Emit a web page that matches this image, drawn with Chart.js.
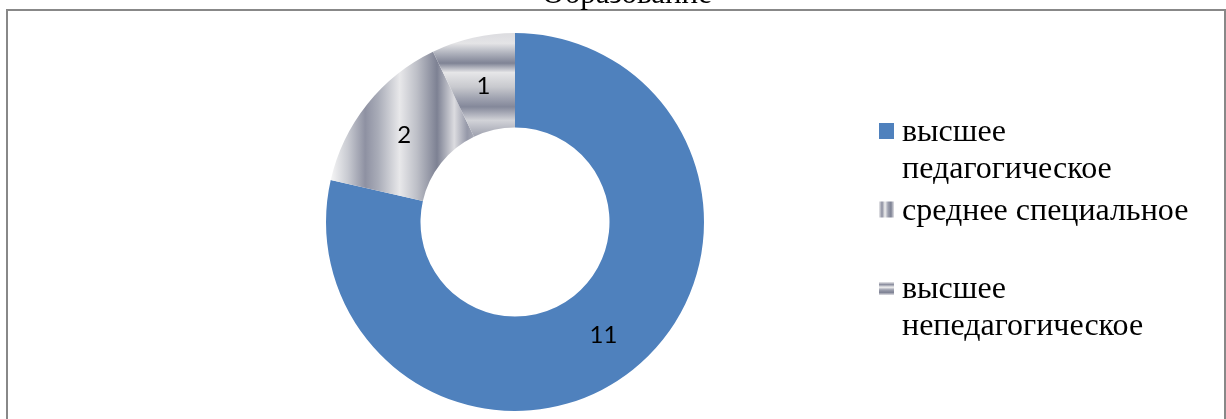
<!DOCTYPE html>
<html><head><meta charset="utf-8">
<script src="https://cdn.jsdelivr.net/npm/chart.js@4"></script>
<style>html,body{margin:0;padding:0;background:#fff;overflow:hidden}canvas{display:block}</style>
</head><body>
<canvas id="c" width="1226" height="419"></canvas>
<script>
const chartTitle = 'Образование';
const categories = [['высшее', 'педагогическое'], ['среднее специальное'], ['высшее', 'непедагогическое']];
const values = [11, 2, 1];

const BLUE = '#4F81BD';
const stripesV = [[0,'#f6f6f6'],[0.12,'#c8cad1'],[0.24,'#8e91a2'],[0.33,'#a9acb8'],[0.48,'#e8e8ea'],[0.60,'#bdbfc7'],[0.74,'#7d8193'],[0.86,'#dcdce0'],[0.95,'#9598a8'],[1,'#a8aab6']];
const stripesH = [[0,'#dcdce0'],[0.10,'#e4e4e6'],[0.19,'#b2b5bf'],[0.29,'#7f8395'],[0.38,'#e6e6e8'],[0.52,'#c8c9ce'],[0.62,'#a2a5b2'],[0.71,'#84889a'],[0.84,'#d2d3d8'],[1,'#9c9fad']];
const swatchStops = [[0,'#e8e8ea'],[0.2,'#8a8d9e'],[0.4,'#f0f0f0'],[0.6,'#9fa2b0'],[0.8,'#7d8193'],[1,'#e0e0e4']];

function geom(chart){
  const a = chart.chartArea;
  return {cx:(a.left+a.right)/2, cy:(a.top+a.bottom)/2, R:Math.min(a.right-a.left, a.bottom-a.top)/2};
}
function grad(ctx, x0, y0, x1, y1, stops){
  const g = ctx.createLinearGradient(x0, y0, x1, y1);
  stops.forEach(s => g.addColorStop(s[0], s[1]));
  return g;
}
function fillFor(context){
  const chart = context.chart, i = context.dataIndex;
  if (i === 0) return BLUE;
  if (!chart.chartArea) return '#b0b2bc';
  const {cx, cy, R} = geom(chart);
  if (i === 1) return grad(chart.ctx, cx - R*0.975, 0, cx - R*0.215, 0, stripesV);
  return grad(chart.ctx, 0, cy - R, 0, cy - R*0.45, stripesH);
}

const deco = {
  id: 'deco',
  beforeDraw(chart){
    const ctx = chart.ctx;
    ctx.save();
    ctx.strokeStyle = '#888888';
    ctx.lineWidth = 2;
    ctx.strokeRect(7, 10, 1218, 440);
    ctx.fillStyle = '#000';
    ctx.font = '31px "Liberation Serif", "Times New Roman", serif';
    ctx.textAlign = 'center';
    ctx.textBaseline = 'alphabetic';
    ctx.fillText(chartTitle, 627, 3);
    ctx.restore();
  },
  afterDatasetsDraw(chart){
    const ctx = chart.ctx;
    const meta = chart.getDatasetMeta(0);
    ctx.save();
    ctx.fillStyle = '#000';
    ctx.font = '24px Lato, "Open Sans", sans-serif';
    ctx.textAlign = 'center';
    ctx.textBaseline = 'middle';
    meta.data.forEach((arc, i) => {
      const p = arc.tooltipPosition();
      ctx.fillText(String(chart.data.datasets[0].data[i]), p.x, p.y + 2);
    });
    ctx.restore();
  },
  afterDraw(chart){
    const ctx = chart.ctx;
    ctx.save();
    const sx = 879, tx = 902, firstBase = 141, pitch = 78.5, lh = 37;
    chart.data.labels.forEach((lab, i) => {
      const base = firstBase + i*pitch;
      let fs;
      if (i === 0) fs = BLUE;
      else if (i === 1) fs = grad(ctx, sx, 0, sx+15, 0, swatchStops);
      else fs = grad(ctx, 0, base-16, 0, base-3, swatchStops);
      ctx.fillStyle = fs;
      if (i === 2) ctx.fillRect(sx, base-16, 15, 13);
      else ctx.fillRect(sx, base-18, 15, 16);
      ctx.fillStyle = '#000';
      ctx.font = '32px "Liberation Serif", "Times New Roman", serif';
      ctx.textAlign = 'left';
      ctx.textBaseline = 'alphabetic';
      const lines = Array.isArray(lab) ? lab : [lab];
      lines.forEach((ln, k) => ctx.fillText(ln, tx, base + k*lh));
    });
    ctx.restore();
  }
};

new Chart(document.getElementById('c'), {
  type: 'doughnut',
  data: {
    labels: categories,
    datasets: [{
      data: values,
      backgroundColor: fillFor,
      borderWidth: 0,
      hoverOffset: 0,
      offset: 0
    }]
  },
  options: {
    responsive: false,
    devicePixelRatio: 1,
    animation: false,
    events: [],
    cutout: '50%',
    rotation: 0,
    layout: {padding: {left: 326, right: 522, top: 33, bottom: 8}},
    plugins: {
      legend: {display: false},
      title: {display: false},
      tooltip: {enabled: false}
    }
  },
  plugins: [deco]
});
</script>
</body></html>
